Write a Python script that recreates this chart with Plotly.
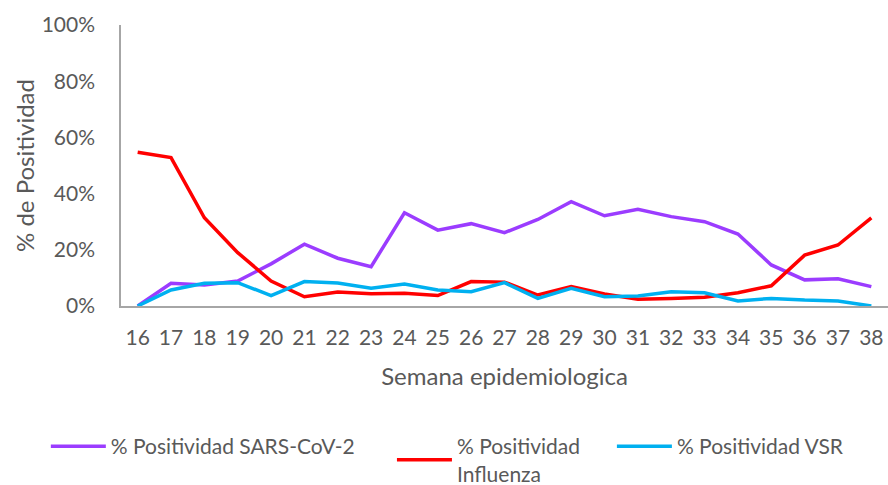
import plotly.graph_objects as go

semanas = [str(s) for s in range(16, 39)]

sars_cov2 = [0.0, 8.1, 7.5, 8.9, 15.0, 22.0, 17.0, 14.0, 33.2, 27.0, 29.3, 26.1,
             30.8, 37.1, 32.1, 34.4, 31.8, 30.0, 25.6, 14.6, 9.3, 9.7, 6.9]
influenza = [54.7, 52.8, 31.4, 19.0, 8.9, 3.3, 5.0, 4.4, 4.5, 3.7, 8.7, 8.5,
             3.9, 6.9, 4.3, 2.4, 2.7, 3.1, 4.7, 7.2, 18.1, 21.7, 31.4]
vsr = [0.0, 5.7, 8.1, 8.3, 3.7, 8.7, 8.2, 6.3, 7.8, 5.7, 5.1, 8.3,
       2.7, 6.3, 3.3, 3.6, 5.1, 4.7, 1.8, 2.7, 2.1, 1.8, 0.0]

y_ticks = [0, 20, 40, 60, 80, 100]
y_labels = ["0%", "20%", "40%", "60%", "80%", "100%"]

font_ = "Lato"
gris = "#595959"
nb = "\u00a0"  # espacio extra entre entradas de la leyenda

series = [
    ("% Positividad SARS-CoV-2" + nb * 6, sars_cov2, "#9B3CFF"),
    ("% Positividad" + nb * 5 + "<br>Influenza", influenza, "#FF0000"),
    ("% Positividad VSR", vsr, "#00B0F0"),
]

fig = go.Figure()
for nombre, valores, color in series:
    fig.add_trace(go.Scatter(x=semanas, y=valores, mode="lines", name=nombre,
                             line=dict(color=color, width=3.5)))

fig.update_layout(
    width=888, height=485,
    margin=dict(l=121, r=0, t=25, b=179, autoexpand=False),
    plot_bgcolor="white", paper_bgcolor="white",
    font=dict(family=font_, size=21, color=gris),
    showlegend=True,
    legend=dict(orientation="h", x=-0.098, xanchor="left", y=-0.427, yanchor="top",
                font=dict(size=21, color=gris), itemwidth=55,
                traceorder="normal"),
)
fig.update_xaxes(type="category", range=[-0.5, 22.5], showgrid=False,
                 showline=True, linecolor="#A6A6A6", linewidth=1.5,
                 ticks="", ticklabelstandoff=12, tickfont=dict(size=21),
                 title=dict(text="Semana epidemiologica", font=dict(size=24), standoff=20))
fig.update_yaxes(range=[0, 100], tickvals=y_ticks, ticktext=y_labels, showgrid=False,
                 showline=True, linecolor="#A6A6A6", linewidth=1.5, zeroline=False,
                 ticks="", ticklabelstandoff=20, tickfont=dict(size=21),
                 title=dict(text="% de Positividad", font=dict(size=24), standoff=0))

# quitar el margen por defecto del body para que el grafico ocupe la ventana
fig.write_html("out.html", config={"displayModeBar": False},
               post_script="document.body.style.margin='0';document.body.style.overflow='hidden';")
